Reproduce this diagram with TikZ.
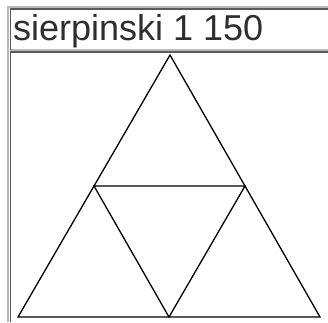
\documentclass[tikz,border=0pt]{standalone}
\usepackage{fontspec}
\setmainfont{Liberation Sans}
\usepackage{xcolor}
\usepackage{tikz}
\usetikzlibrary{calc}
\definecolor{framelight}{HTML}{B8B8B8}
\definecolor{framedark}{HTML}{5A5A5A}
\definecolor{headtext}{HTML}{2E2E2E}

\begin{document}
\begin{tikzpicture}[x=1pt,y=-1pt]
\useasboundingbox (0,0) rectangle (328,322);
% table frame
\draw[framelight, line width=1.4pt] (8,322) -- (8,7) -- (328,7);
\draw[framelight, line width=1.4pt] (10,50) -- (328,50);
\draw[framedark, line width=1.8pt] (10.5,50) -- (10.5,8.8) -- (328,8.8);
\draw[framedark, line width=1.8pt] (10.5,322) -- (10.5,52.2) -- (328,52.2);
% title
\node[anchor=base west, inner sep=0pt, text=headtext] (title) at (13,40.5)
  {\fontsize{36}{40}\selectfont sierpinski 1 150};
% triangle, one level
\coordinate (top) at (170,55);
\coordinate (left) at (18,317);
\coordinate (right) at (320,317);
\coordinate (midl) at ($(top)!0.5!(left)$);
\coordinate (midr) at ($(top)!0.5!(right)$);
\coordinate (midb) at ($(left)!0.5!(right)$);
\draw[black, line width=1.3pt, line join=miter] (top) -- (left) -- (right) -- cycle;
\draw[black, line width=1.3pt] (midl) -- (midr) -- (midb) -- cycle;
\end{tikzpicture}
\end{document}
